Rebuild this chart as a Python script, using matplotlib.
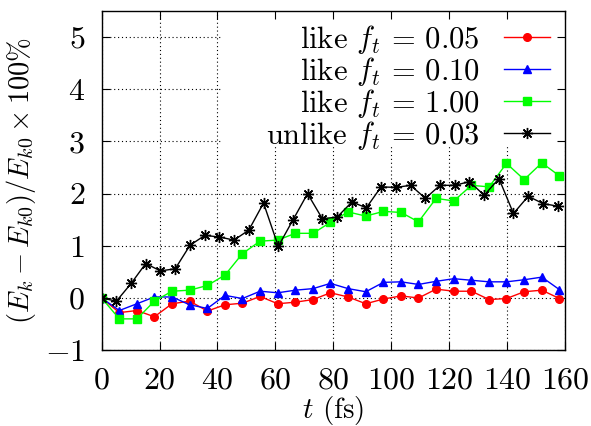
import matplotlib
matplotlib.use("Agg")
import matplotlib.pyplot as plt
from matplotlib.patches import Rectangle

plt.rcParams['font.family'] = 'serif'
plt.rcParams['font.serif'] = ['cmr10']
plt.rcParams['mathtext.fontset'] = 'cm'
plt.rcParams['axes.formatter.use_mathtext'] = True
plt.rcParams['axes.unicode_minus'] = True

# time grids (fs)
t_like = [0, 6.1, 12.2, 18.2, 24.3, 30.4, 36.5, 42.6, 48.6, 54.7, 60.8, 66.9, 73.0, 79.0,
          85.1, 91.2, 97.3, 103.4, 109.4, 115.5, 121.6, 127.7, 133.8, 139.8, 145.9, 152.0, 158.1]
t_unlike = [0, 5.1, 10.2, 15.2, 20.3, 25.4, 30.5, 35.6, 40.6, 45.7, 50.8, 55.9, 61.0, 66.0,
            71.1, 76.2, 81.3, 86.4, 91.4, 96.5, 101.6, 106.7, 111.8, 116.8, 121.9, 127.0,
            132.1, 137.2, 142.2, 147.3, 152.4, 157.5]

# relative kinetic energy change (%)
like_005 = [0, -0.28, -0.24, -0.36, -0.11, -0.06, -0.25, -0.13, -0.10, 0.03, -0.11, -0.08, -0.03, 0.10,
            0.02, -0.11, -0.02, 0.04, 0.00, 0.17, 0.13, 0.13, -0.03, -0.01, 0.12, 0.15, -0.01]
like_010 = [0, -0.24, -0.11, 0.02, 0.02, -0.13, -0.20, 0.05, -0.01, 0.13, 0.10, 0.15, 0.18, 0.28,
            0.18, 0.12, 0.30, 0.31, 0.26, 0.32, 0.37, 0.34, 0.31, 0.31, 0.35, 0.40, 0.16]
like_100 = [0, -0.40, -0.40, -0.06, 0.13, 0.15, 0.24, 0.44, 0.85, 1.09, 1.11, 1.24, 1.24, 1.45,
            1.65, 1.57, 1.66, 1.64, 1.46, 1.91, 1.86, 2.16, 2.13, 2.58, 2.27, 2.59, 2.34]
unlike_003 = [0, -0.06, 0.28, 0.66, 0.52, 0.56, 1.01, 1.20, 1.17, 1.11, 1.30, 1.82, 0.99, 1.49,
              2.00, 1.52, 1.55, 1.84, 1.73, 2.13, 2.12, 2.16, 1.91, 2.16, 2.16, 2.23, 1.97,
              2.29, 1.62, 1.95, 1.81, 1.76]

labels = [r'like $f_t \,=\, 0.05$', r'like $f_t \,=\, 0.10$',
          r'like $f_t \,=\, 1.00$', r'unlike $f_t \,=\, 0.03$']

xticks = list(range(0, 161, 20))
yticks = list(range(-1, 6))

fig = plt.figure(figsize=(5.91, 4.26), dpi=100)
rect = [0.172, 0.178, 0.784, 0.796]

# background axes: dotted grid + opaque key box (like gnuplot)
bg = fig.add_axes(rect)
bg.set_xlim(0, 160)
bg.set_ylim(-1, 5.5)
bg.set_xticks(xticks)
bg.set_yticks(yticks)
bg.grid(True, color='black', linestyle=(0, (1, 2.5)), linewidth=0.8)
bg.tick_params(length=0, labelbottom=False, labelleft=False)
for sp in bg.spines.values():
    sp.set_visible(False)
bg.add_patch(Rectangle((0.26, 0.605), 0.74, 0.395, transform=bg.transAxes,
                       facecolor='white', edgecolor='none', zorder=3))

ax = fig.add_axes(rect)
ax.patch.set_visible(False)

ax.plot(t_like, like_005, color='#ff0000', marker='o', ms=5.5, lw=1.0, label=labels[0])
ax.plot(t_like, like_010, color='#0000ff', marker='^', ms=5.5, lw=1.0, label=labels[1])
ax.plot(t_like, like_100, color='#00ff00', marker='s', ms=6, lw=1.0, label=labels[2])
ax.plot(t_unlike, unlike_003, color='black', marker=(8, 2, 0), ms=8, mew=1.0, lw=1.0, label=labels[3])

ax.set_xlim(0, 160)
ax.set_ylim(-1, 5.5)
ax.set_xticks(xticks)
ax.set_yticks(yticks)
ax.tick_params(direction='in', length=6, width=0.8, top=True, right=True, labelsize=23)
ax.tick_params(axis='x', pad=12)
ax.tick_params(axis='y', pad=12)
for sp in ax.spines.values():
    sp.set_linewidth(1.0)

ax.set_xlabel(r'$t$ (fs)', fontsize=21, labelpad=0)
ax.set_ylabel(r'$(E_k - E_{k0})/E_{k0} \times 100\%$', fontsize=20.5, labelpad=5)

leg = ax.legend(loc='upper right', bbox_to_anchor=(0.988, 0.993), borderaxespad=0, fontsize=22,
                markerfirst=False, handlelength=1.5, handletextpad=0.8, labelspacing=-0.03,
                numpoints=1, frameon=False, borderpad=0.3)

fig.savefig('out.png', dpi=100)
